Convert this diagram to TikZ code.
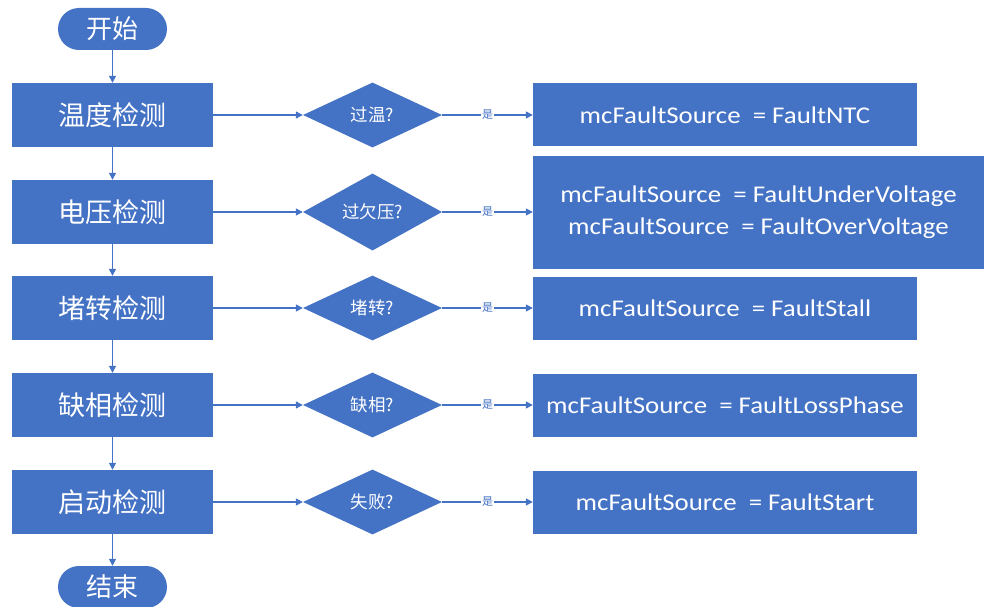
\documentclass[tikz,border=0pt]{standalone}
\usepackage{fontspec}
\setmainfont{Carlito}
\newfontfamily\widesans[FakeStretch=1.12]{Carlito}
\newfontfamily\cjk{Noto Sans CJK SC}
\usetikzlibrary{shapes.geometric,arrows.meta}
\definecolor{officeblue}{HTML}{4472C4}
\tikzset{
  every node/.style={text=white},
  terminal/.style={fill=officeblue, rounded corners=21pt, minimum width=109pt, minimum height=42pt, inner sep=0pt, font=\cjk\fontsize{26}{30}\selectfont},
  checkbox/.style={fill=officeblue, minimum width=201pt, minimum height=64pt, inner sep=0pt, font=\cjk\fontsize{27}{32}\selectfont},
  decision/.style={diamond, fill=officeblue, minimum width=139pt, minimum height=65pt, inner sep=0pt, font=\cjk\fontsize{17.5}{21}\selectfont},
  resultbox/.style={fill=officeblue, minimum width=384pt, minimum height=63pt, inner sep=0pt, align=center, font=\widesans\fontsize{24}{32}\selectfont},
  flow/.style={draw=officeblue, line width=1.3pt, -{Triangle[width=7pt,length=7pt]}},
  yes/.style={fill=white, text=officeblue, inner sep=1pt, font=\cjk\fontsize{11}{13}\selectfont}
}
\begin{document}
\begin{tikzpicture}[x=1pt,y=-1pt]
\useasboundingbox (0,0) rectangle (985,607);
% left column: start, checks, end
\node[terminal] (start) at (112.5,29) {开始};
\node[checkbox] (b1) at (112.5,115) {温度检测};
\node[checkbox] (b2) at (112.5,212) {电压检测};
\node[checkbox] (b3) at (112.5,308) {堵转检测};
\node[checkbox] (b4) at (112.5,405) {缺相检测};
\node[checkbox] (b5) at (112.5,502) {启动检测};
\node[terminal] (stop) at (112.5,587) {结束};
% decisions
\node[decision] (d1) at (372.5,115) {过温?};
\node[decision] (d2) at (372.5,212) {过欠压?};
\node[decision] (d3) at (372.5,308) {堵转?};
\node[decision] (d4) at (372.5,405) {缺相?};
\node[decision] (d5) at (372.5,502) {失败?};
% fault assignments
\node[resultbox] (r1) at (725,115) {mcFaultSource\ \ = FaultNTC};
\node[resultbox, minimum width=451pt, minimum height=113pt] (r2) at (758.5,212) {mcFaultSource\ \ = FaultUnderVoltage\\mcFaultSource\ \ = FaultOverVoltage};
\node[resultbox] (r3) at (725,308) {mcFaultSource\ \ = FaultStall};
\node[resultbox] (r4) at (725,405) {mcFaultSource\ \ = FaultLossPhase};
\node[resultbox] (r5) at (725,502) {mcFaultSource\ \ = FaultStart};
% main sequence
\draw[flow] (start) -- (b1);
\draw[flow] (b1) -- (b2);
\draw[flow] (b2) -- (b3);
\draw[flow] (b3) -- (b4);
\draw[flow] (b4) -- (b5);
\draw[flow] (b5) -- (stop);
% checks to decisions to results
\foreach \i in {1,...,5}{
  \draw[flow] (b\i) -- (d\i);
  \draw[flow] (d\i) -- node[yes] {是} (d\i -| r\i.west);
}
\end{tikzpicture}
\end{document}
